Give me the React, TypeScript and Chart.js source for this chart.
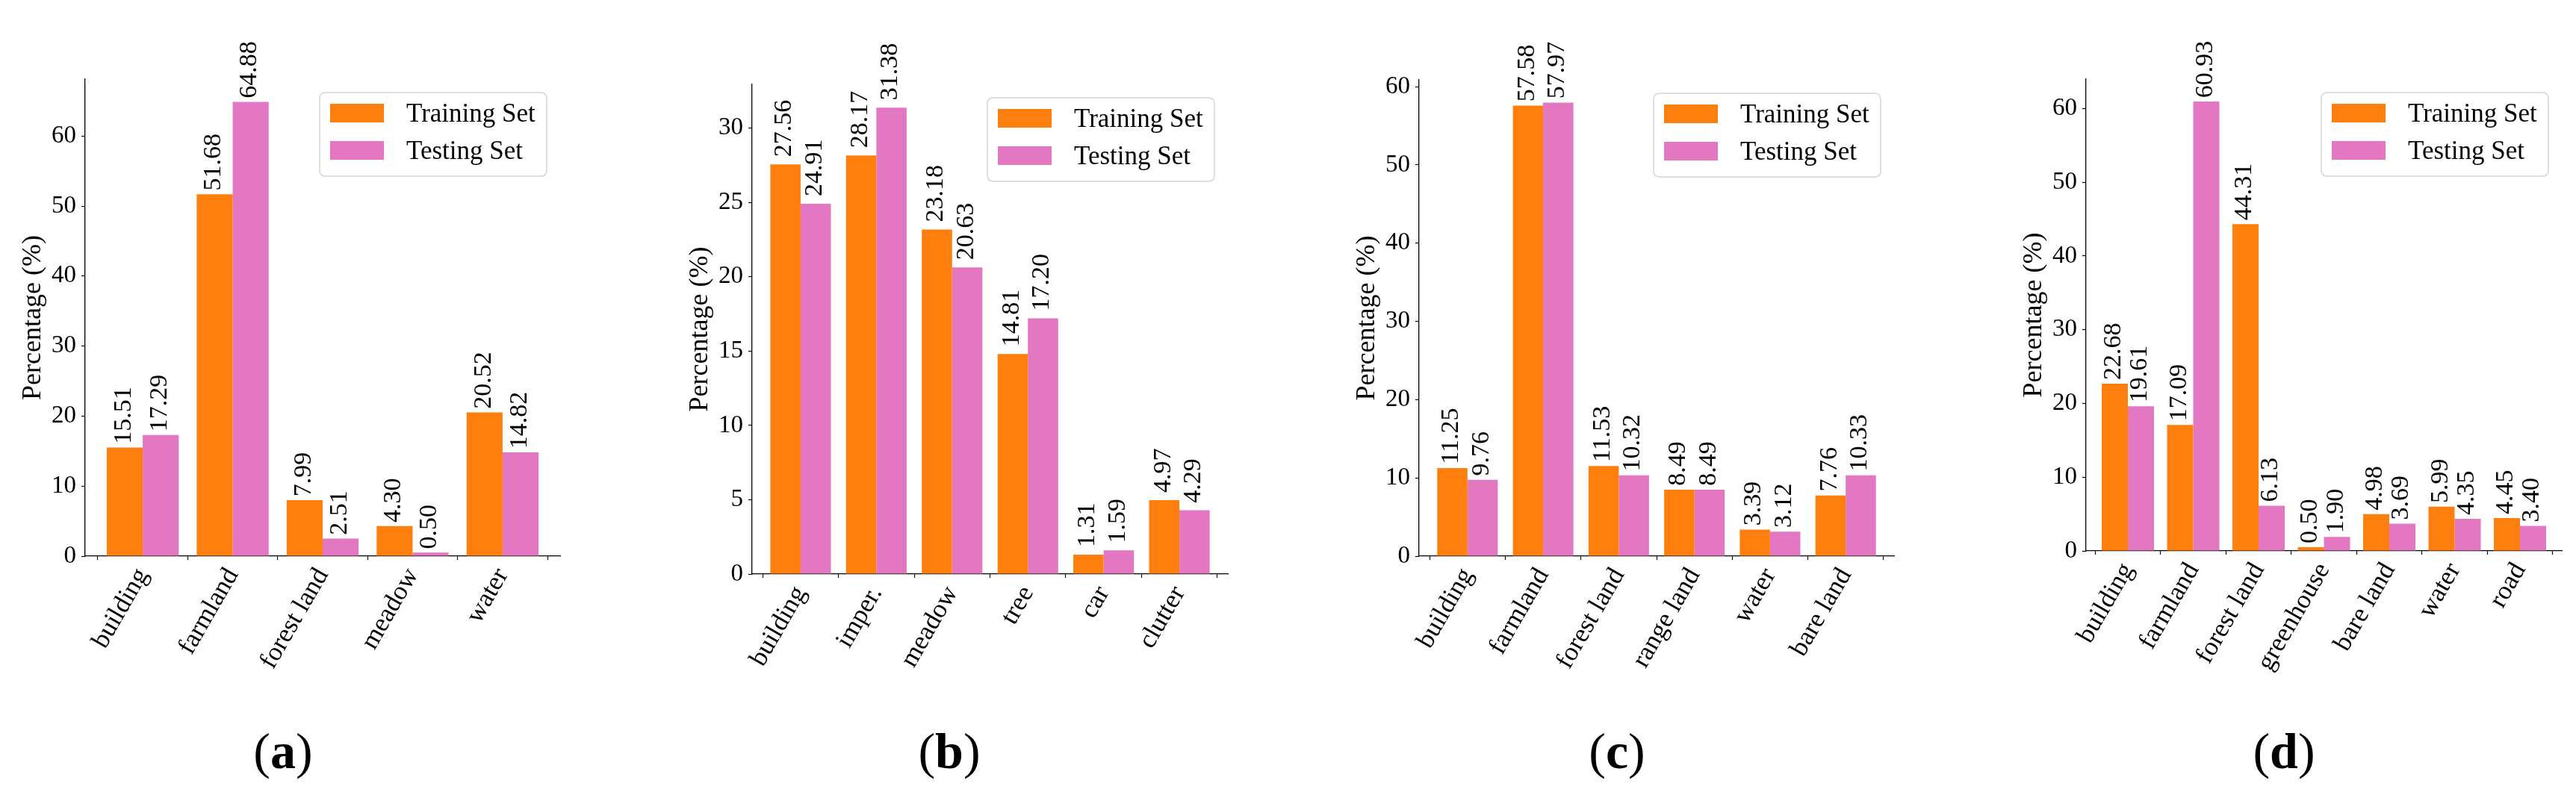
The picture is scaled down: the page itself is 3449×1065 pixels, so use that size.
import React, { useEffect, useRef } from "react";
import { Chart, registerables } from "chart.js";

Chart.register(...registerables);

const FONT = '"Liberation Serif", "Times New Roman", serif';

// ---- data ----
const catsA = ["building", "farmland", "forest land", "meadow", "water"];
const trainA = [15.51, 51.68, 7.99, 4.3, 20.52];
const testA = [17.29, 64.88, 2.51, 0.5, 14.82];

const catsB = ["building", "imper.", "meadow", "tree", "car", "clutter"];
const trainB = [27.56, 28.17, 23.18, 14.81, 1.31, 4.97];
const testB = [24.91, 31.38, 20.63, 17.2, 1.59, 4.29];

const catsC = ["building", "farmland", "forest land", "range land", "water", "bare land"];
const trainC = [11.25, 57.58, 11.53, 8.49, 3.39, 7.76];
const testC = [9.76, 57.97, 10.32, 8.49, 3.12, 10.33];

const catsD = ["building", "farmland", "forest land", "greenhouse", "bare land", "water", "road"];
const trainD = [22.68, 17.09, 44.31, 0.5, 4.98, 5.99, 4.45];
const testD = [19.61, 60.93, 6.13, 1.9, 3.69, 4.35, 3.4];

const yStepA = 10;
const yStepB = 5;
const yStepC = 10;
const yStepD = 10;

const seriesLabels = ["Training Set", "Testing Set"];
const seriesColors = ["#ff7f0e", "#e377c2"];
const yTitle = "Percentage (%)";

// ---- plugins ----
const valueLabelPlugin = {
  id: "valueLabels",
  afterDatasetsDraw(chart: any) {
    const ctx = chart.ctx;
    const ys = chart.scales.y;
    const size = 34;
    chart.data.datasets.forEach((ds: any, di: number) => {
      const meta = chart.getDatasetMeta(di);
      meta.data.forEach((bar: any, i: number) => {
        const v = ds.data[i].y;
        const py = ys.getPixelForValue(v + 0.5);
        ctx.save();
        ctx.translate(bar.x, py);
        ctx.rotate(-Math.PI / 2);
        ctx.font = `${size}px ${FONT}`;
        ctx.fillStyle = "#000";
        ctx.textAlign = "left";
        ctx.textBaseline = "alphabetic";
        ctx.fillText(v.toFixed(2), 0, 0.23 * size);
        ctx.restore();
      });
    });
  },
};

const legendPlugin = {
  id: "mplLegend",
  afterDraw(chart: any) {
    const { ctx, chartArea } = chart;
    const w = 304;
    const h = 112;
    const x = chartArea.right - 18 - w;
    const y = chartArea.top + 18;
    const r = 8;
    ctx.save();
    ctx.beginPath();
    ctx.moveTo(x + r, y);
    ctx.lineTo(x + w - r, y);
    ctx.quadraticCurveTo(x + w, y, x + w, y + r);
    ctx.lineTo(x + w, y + h - r);
    ctx.quadraticCurveTo(x + w, y + h, x + w - r, y + h);
    ctx.lineTo(x + r, y + h);
    ctx.quadraticCurveTo(x, y + h, x, y + h - r);
    ctx.lineTo(x, y + r);
    ctx.quadraticCurveTo(x, y, x + r, y);
    ctx.closePath();
    ctx.fillStyle = "rgba(255,255,255,0.8)";
    ctx.fill();
    ctx.strokeStyle = "#d6d6d6";
    ctx.lineWidth = 1.5;
    ctx.stroke();
    chart.data.datasets.forEach((ds: any, i: number) => {
      const ry = y + 15 + i * 50;
      ctx.fillStyle = ds.backgroundColor;
      ctx.fillRect(x + 14, ry, 72, 25);
      ctx.fillStyle = "#000";
      ctx.font = `35px ${FONT}`;
      ctx.textAlign = "left";
      ctx.textBaseline = "alphabetic";
      ctx.fillText(ds.label, x + 116, ry + 12.5 + 11.5);
    });
    ctx.restore();
  },
};

type PanelProps = {
  cats: string[];
  train: number[];
  test: number[];
  step: number;
  left: number;
  width: number;
  padLeft: number;
  padRight: number;
  padTop: number;
  zeroY: number;
};

const PAGE_H = 1065;

function Panel(p: PanelProps) {
  const ref = useRef<HTMLCanvasElement>(null);
  useEffect(() => {
    if (!ref.current) return;
    const n = p.cats.length;
    const ymax = Math.max(...p.train, ...p.test) * 1.05;
    const xh = PAGE_H - p.zeroY;
    const gridCommon = {
      display: true,
      drawOnChartArea: false,
      drawTicks: true,
      tickLength: 5,
      tickWidth: 1.2,
      tickColor: "#000",
    };
    const chart = new Chart(ref.current, {
      type: "bar",
      data: {
        datasets: [p.train, p.test].map((arr, k) => ({
          label: seriesLabels[k],
          data: arr.map((v, i) => ({ x: i, y: v })),
          backgroundColor: seriesColors[k],
          borderWidth: 0,
          categoryPercentage: 0.8,
          barPercentage: 1.0,
        })),
      },
      options: {
        animation: false,
        responsive: false,
        maintainAspectRatio: false,
        devicePixelRatio: 1,
        layout: { padding: { left: p.padLeft, right: p.padRight, top: p.padTop, bottom: 0 } },
        plugins: { legend: { display: false }, tooltip: { enabled: false } },
        scales: {
          x: {
            type: "linear",
            min: -0.64,
            max: n - 1 + 0.64,
            offset: false,
            z: 1,
            grid: gridCommon,
            border: { display: true, color: "#000", width: 1.3 },
            ticks: {
              autoSkip: false,
              minRotation: 60,
              maxRotation: 60,
              padding: 4,
              color: "#000",
              font: { family: FONT, size: 35 },
              callback: (v: any) => p.cats[Math.round(Number(v))] ?? "",
            },
            afterBuildTicks: (ax: any) => {
              ax.ticks = p.cats.map((_, i) => ({ value: i }));
            },
            afterFit: (ax: any) => {
              ax.height = xh;
              ax.paddingLeft = 0;
              ax.paddingRight = 0;
            },
          },
          y: {
            min: 0,
            max: ymax,
            z: 1,
            grid: gridCommon,
            border: { display: true, color: "#000", width: 1.3 },
            ticks: {
              stepSize: p.step,
              includeBounds: false,
              padding: 7,
              color: "#000",
              font: { family: FONT, size: 33 },
            },
            title: {
              display: true,
              text: yTitle,
              color: "#000",
              font: { family: FONT, size: 36 },
              padding: { top: 9, bottom: 0 },
            },
            afterFit: (ax: any) => {
              ax.width = 100;
              ax.paddingTop = 0;
              ax.paddingBottom = 0;
            },
          },
        },
      } as any,
      plugins: [valueLabelPlugin, legendPlugin],
    });
    return () => chart.destroy();
  }, []);
  return (
    <canvas
      ref={ref}
      width={p.width}
      height={PAGE_H}
      style={{ position: "absolute", left: p.left, top: 0, width: p.width, height: PAGE_H }}
    />
  );
}

function Caption({ letter, cx }: { letter: string; cx: number }) {
  return (
    <div
      style={{
        position: "absolute",
        left: cx - 100,
        width: 200,
        top: 972,
        textAlign: "center",
        fontFamily: FONT,
        fontSize: 68,
        lineHeight: "68px",
        color: "#000",
      }}
    >
      (<b>{letter}</b>)
    </div>
  );
}

export default function App() {
  return (
    <div
      style={{
        position: "absolute",
        left: 0,
        top: 0,
        width: 3449,
        height: PAGE_H,
        background: "#fff",
        overflow: "hidden",
      }}
    >
      <Panel cats={catsA} train={trainA} test={testA} step={yStepA}
        left={0} width={862} padLeft={14} padRight={112} padTop={106} zeroY={745} />
      <Panel cats={catsB} train={trainB} test={testB} step={yStepB}
        left={862} width={862} padLeft={45} padRight={80} padTop={113} zeroY={769} />
      <Panel cats={catsC} train={trainC} test={testC} step={yStepC}
        left={1724} width={863} padLeft={76} padRight={51} padTop={107} zeroY={745} />
      <Panel cats={catsD} train={trainD} test={testD} step={yStepD}
        left={2587} width={862} padLeft={106} padRight={19} padTop={106} zeroY={738} />
      <Caption letter="a" cx={379} />
      <Caption letter="b" cx={1271} />
      <Caption letter="c" cx={2165} />
      <Caption letter="d" cx={3058} />
    </div>
  );
}
